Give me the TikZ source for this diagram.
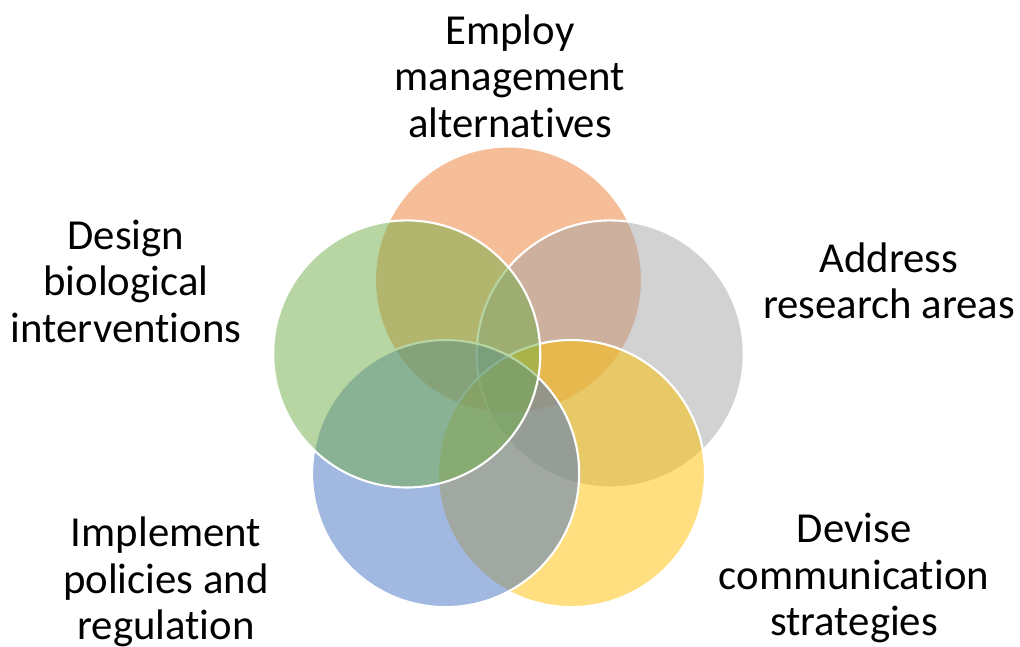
\documentclass[tikz,border=0pt]{standalone}
\usepackage{fontspec}
\setmainfont{Carlito}[Ligatures=NoCommon]
% keep "t" and "i" as separate glyphs
\XeTeXinterchartokenstate=1
\newXeTeXintercharclass\tletter
\newXeTeXintercharclass\iletter
\XeTeXcharclass`t=\tletter
\XeTeXcharclass`i=\iletter
\XeTeXinterchartoks\tletter\iletter={\kern0pt }
\usepackage{tikz}
\usetikzlibrary{positioning, calc}
\definecolor{vorange}{RGB}{237,125,49}
\definecolor{vgray}{RGB}{165,165,165}
\definecolor{vyellow}{RGB}{255,192,0}
\definecolor{vblue}{RGB}{68,114,196}
\definecolor{vgreen}{RGB}{112,173,71}
\tikzset{
  venn/.style={circle, draw=white, line width=1.5pt,
    fill opacity=0.5, minimum size=6.675cm, inner sep=0pt},
  areatext/.style={align=center, inner sep=0pt, text=black,
    font=\fontsize{30.4}{33.1}\selectfont}
}

\begin{document}
\begin{tikzpicture}[x=0.025cm, y=-0.025cm]
  \useasboundingbox (0,0) rectangle (1020,646);
  \coordinate (hub) at (508.5,387);

  % five overlapping circles, drawn back to front
  \node[venn, fill=vorange] (employ)    at ($(hub)+(-90:107)$) {};
  \node[venn, fill=vgray]   (address)   at ($(hub)+(-18:107)$) {};
  \node[venn, fill=vyellow] (devise)    at ($(hub)+(54:107)$)  {};
  \node[venn, fill=vblue]   (implement) at ($(hub)+(126:107)$) {};
  \node[venn, fill=vgreen]  (design)    at ($(hub)+(198:107)$) {};

  \node[areatext] (employtxt)    at (510,76)  {Employ\\management\\alternatives};
  \node[areatext] (addresstxt)   at (889,281) {Address\\research areas};
  \node[areatext] (devisetxt)    at (854,578) {Devise\\communication\\strategies};
  \node[areatext] (implementtxt) at (166,582) {Implement\\policies and\\regulation};
  \node[areatext] (designtxt)    at (126,281) {Design\\biological\\interventions};
\end{tikzpicture}
\end{document}
